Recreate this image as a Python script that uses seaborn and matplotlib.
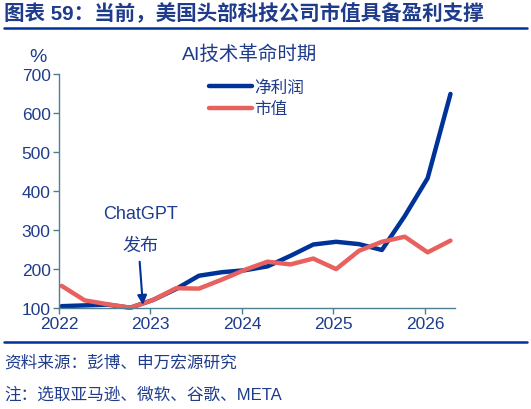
import pandas as pd
import matplotlib.pyplot as plt
import seaborn as sns
import numpy as np

NAVY = '#003399'
SALMON = '#E8615E'
TEXT_BLUE = '#1F3C8C'
SPINE = '#4D7F8F'

sns.set_theme(style='white')
plt.rcParams['font.family'] = ['Liberation Sans', 'Noto Sans CJK SC', 'DejaVu Sans']

# quarterly points, 2022Q1 .. 2026Q2
years = [2022] * 4 + [2023] * 4 + [2024] * 4 + [2025] * 4 + [2026] * 2
quarters = [1, 2, 3, 4] * 4 + [1, 2]
profit = [104, 106, 108, 100, 120, 148, 182, 191, 196, 206, 233, 262, 269, 263, 248, 335, 432, 648]
mktcap = [156, 119, 109, 100, 120, 150, 149, 172, 197, 218, 211, 226, 199, 246, 269, 282, 242, 272]
year_ticks = [2022, 2023, 2024, 2025, 2026]

df = pd.DataFrame({'year': years, 'q': quarters, '净利润': profit, '市值': mktcap})
df['t'] = df['year'] + (df['q'] - 1) / 4 + 0.03
long = df.melt(id_vars='t', value_vars=['净利润', '市值'], var_name='series', value_name='v')

fig = plt.figure(figsize=(5.31, 4.10), dpi=100)
ax = fig.add_axes([0.111, 0.247, 0.746, 0.571])

sns.lineplot(data=long, x='t', y='v', hue='series', palette={'净利润': NAVY, '市值': SALMON},
             linewidth=3.2, ax=ax, legend=False, clip_on=False)

ax.set_xlim(2022, 2026.33)
ax.set_ylim(100, 700)
ax.set_xticks(year_ticks)
ax.set_xticklabels([str(y) for y in year_ticks])
ax.set_yticks(range(100, 701, 100))
ax.set_xlabel('')
ax.set_ylabel('')
for s in ['top', 'right']:
    ax.spines[s].set_visible(False)
for s in ['left', 'bottom']:
    ax.spines[s].set_color(SPINE)
    ax.spines[s].set_linewidth(1.0)
ax.tick_params(axis='both', colors=SPINE, labelcolor=TEXT_BLUE, labelsize=12.5,
               direction='out', length=4, width=1, pad=2, left=True, bottom=True)

# legend
ax.legend(handles=[plt.Line2D([], [], color=NAVY, lw=3.2), plt.Line2D([], [], color=SALMON, lw=3.2)],
          labels=['净利润', '市值'], loc='upper left', bbox_to_anchor=(0.34, 1.04), frameon=False,
          fontsize=12, handlelength=2.6, handletextpad=0.15, labelspacing=0.4, labelcolor=TEXT_BLUE)

# annotations
fig.text(0.072, 0.86, '%', fontsize=14, color=TEXT_BLUE, ha='center', va='center')
fig.text(0.47, 0.866, 'AI技术革命时期', fontsize=14, color=TEXT_BLUE, ha='center', va='center')
fig.text(0.265, 0.476, 'ChatGPT', fontsize=13, color=TEXT_BLUE, ha='center', va='center')
fig.text(0.265, 0.398, '发布', fontsize=13, color=TEXT_BLUE, ha='center', va='center')
ax.annotate('', xy=(2022.92, 100), xytext=(2022.88, 225),
            arrowprops=dict(arrowstyle='-|>', color=NAVY, lw=1.5, mutation_scale=14))

# title and rules
fig.text(0.008, 0.965, '图表 59：当前，美国头部科技公司市值具备盈利支撑', fontsize=14.8,
         fontweight='bold', color=TEXT_BLUE, ha='left', va='center')
fig.add_artist(plt.Line2D([0.008, 0.992], [0.929, 0.929], color=NAVY, lw=1.8))
fig.add_artist(plt.Line2D([0.008, 0.992], [0.164, 0.164], color=NAVY, lw=1.8))
fig.text(0.008, 0.115, '资料来源：彭博、申万宏源研究', fontsize=12, color=TEXT_BLUE, ha='left', va='center')
fig.text(0.008, 0.036, '注：选取亚马逊、微软、谷歌、META', fontsize=12, color=TEXT_BLUE, ha='left', va='center')

fig.savefig('out.png', dpi=100)
